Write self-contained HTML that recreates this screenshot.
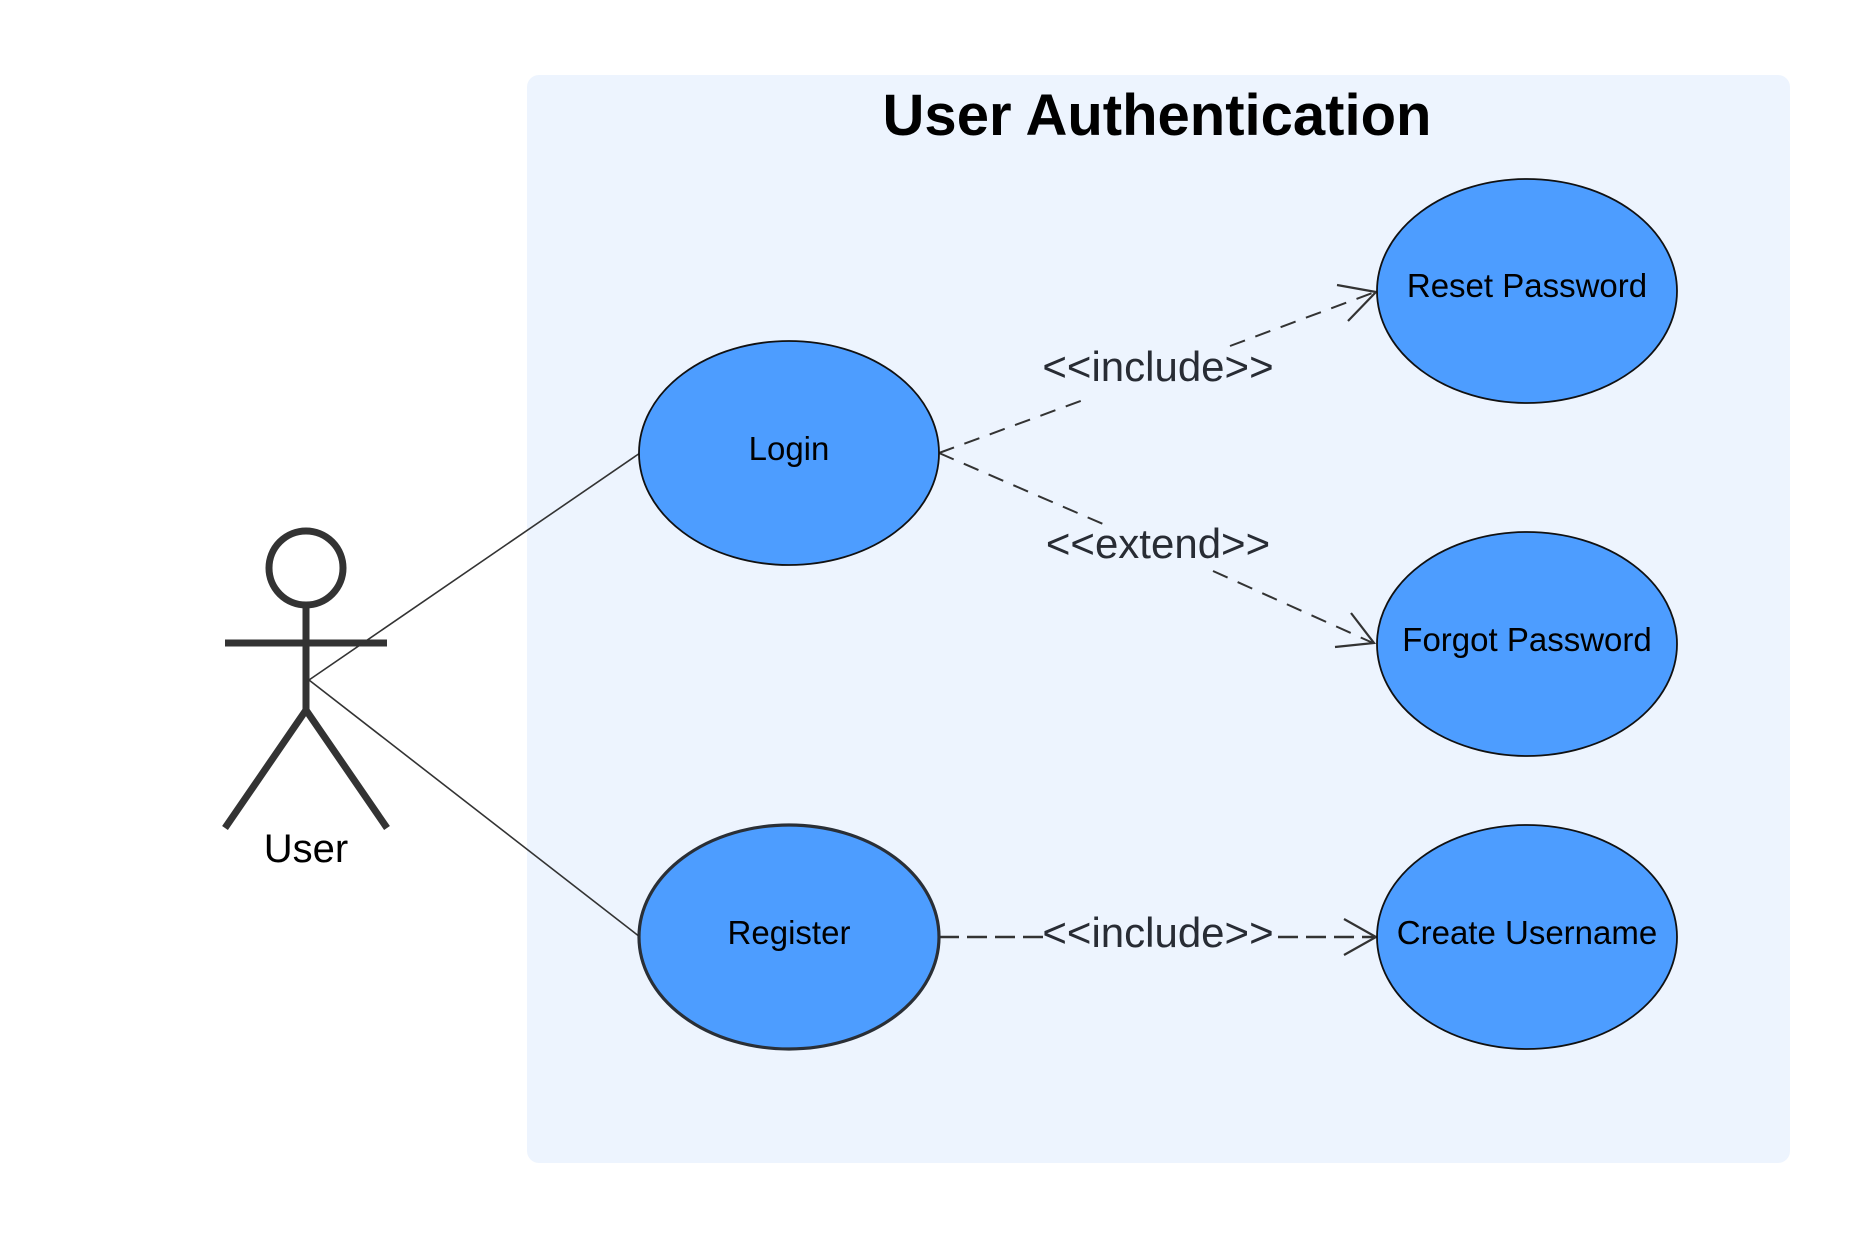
<!DOCTYPE html>
<html><head><meta charset="utf-8"><style>
html,body{margin:0;padding:0;background:#fff;}
svg{display:block;}
text{font-family:"Liberation Sans",Arial,sans-serif;}
</style></head><body>
<svg width="1864" height="1238" viewBox="0 0 1864 1238" xmlns="http://www.w3.org/2000/svg">
<rect x="527" y="75" width="1263" height="1088" rx="12" fill="#edf4fe"/>
<text x="1157" y="135" text-anchor="middle" font-size="58" font-weight="bold" fill="#000">User Authentication</text>

<!-- actor -->
<g stroke="#333" stroke-width="7" fill="none" stroke-linecap="butt">
<circle cx="306" cy="568" r="37"/>
<line x1="306" y1="605" x2="306" y2="710"/>
<line x1="225" y1="643" x2="387" y2="643"/>
<polyline points="225,828 306,710 387,828"/>
</g>
<text x="306" y="862" text-anchor="middle" font-size="40" fill="#000">User</text>

<!-- actor lines -->
<line x1="309" y1="680" x2="640" y2="453" stroke="#333" stroke-width="1.6"/>
<line x1="309" y1="680" x2="640" y2="937" stroke="#333" stroke-width="1.6"/>

<!-- dashed connectors -->
<g stroke="#333" stroke-width="2" fill="none" stroke-dasharray="16,11">
<line x1="939" y1="453" x2="1086" y2="399"/>
<line x1="1230" y1="346" x2="1375" y2="292"/>
<line x1="939" y1="453" x2="1103" y2="524"/>
<line x1="1213" y1="571" x2="1373" y2="643"/>
</g>
<g stroke="#333" stroke-width="2.5" fill="none" stroke-dasharray="20,8">
<line x1="939" y1="937" x2="1043" y2="937"/>
<line x1="1278" y1="937" x2="1375" y2="937"/>
</g>
<!-- arrowheads -->
<g stroke="#333" stroke-width="2.2" fill="none">
<polyline points="1337,285 1376,292 1348,321"/>
<polyline points="1351,613 1374,643 1335,647"/>
<polyline points="1344,919 1376,937 1344,955"/>
</g>

<!-- labels -->
<g font-size="42" fill="#282c34" text-anchor="middle">
<text x="1158" y="381">&lt;&lt;include&gt;&gt;</text>
<text x="1158" y="558">&lt;&lt;extend&gt;&gt;</text>
<text x="1158" y="947">&lt;&lt;include&gt;&gt;</text>
</g>

<!-- use cases -->
<g fill="#4d9dff" stroke="#111" stroke-width="1.8">
<ellipse cx="789" cy="453" rx="150" ry="112"/>
<ellipse cx="1527" cy="291" rx="150" ry="112"/>
<ellipse cx="1527" cy="644" rx="150" ry="112"/>
<ellipse cx="1527" cy="937" rx="150" ry="112"/>
</g>
<ellipse cx="789" cy="937" rx="150" ry="112" fill="#4d9dff" stroke="#2a2f36" stroke-width="3.2"/>
<g font-size="33" fill="#000" text-anchor="middle">
<text x="789" y="460">Login</text>
<text x="1527" y="297">Reset Password</text>
<text x="1527" y="651">Forgot Password</text>
<text x="789" y="944">Register</text>
<text x="1527" y="944">Create Username</text>
</g>
</svg>
</body></html>
